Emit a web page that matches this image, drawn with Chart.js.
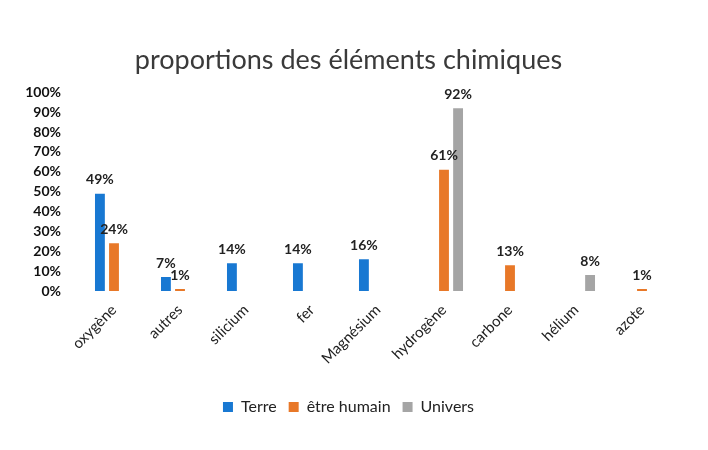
<!DOCTYPE html>
<html>
<head>
<meta charset="utf-8">
<script src="https://cdn.jsdelivr.net/npm/chart.js@4"></script>
<style>
  body { margin: 0; background: #fff; }
  #wrap { width: 708px; height: 450px; }
</style>
</head>
<body>
<div id="wrap"><canvas id="chimie" width="708" height="450"></canvas></div>
<script>
// categories and values
let elements = ["oxygène", "autres", "silicium", "fer", "Magnésium", "hydrogène", "carbone", "hélium", "azote"];
let terre = [49, 7, 14, 14, 16, null, null, null, null];
let humain = [24, 1, null, null, null, 61, 13, null, 1];
let univers = [null, null, null, null, null, 92, null, 8, null];
let yStep = 10;

// draws the % value above each bar
const valueLabels = {
  id: 'valueLabels',
  afterDatasetsDraw(chart) {
    const ctx = chart.ctx;
    ctx.save();
    ctx.font = 'bold 14px Lato';
    ctx.fillStyle = '#222';
    ctx.textAlign = 'center';
    ctx.textBaseline = 'bottom';
    chart.data.datasets.forEach(function(ds, i) {
      const meta = chart.getDatasetMeta(i);
      meta.data.forEach(function(bar, j) {
        if (ds.data[j] == null) return;
        ctx.fillText(ds.data[j] + '%', bar.x, bar.y - 7);
      });
    });
    ctx.restore();
  }
};

var ctx = document.getElementById('chimie').getContext('2d');
var chart = new Chart(ctx, {
  type: 'bar',
  data: {
    labels: elements,
    datasets: [{
      label: 'Terre',
      backgroundColor: 'rgb(24, 120, 210)',
      data: terre
    }, {
      label: 'être humain',
      backgroundColor: 'rgb(232, 120, 40)',
      data: humain
    }, {
      label: 'Univers',
      backgroundColor: 'rgb(165, 165, 165)',
      data: univers
    }]
  },
  options: {
    responsive: false,
    animation: false,
    categoryPercentage: 0.64,
    barPercentage: 0.7,
    layout: { padding: { left: 22, right: 33, top: 10, bottom: 25 } },
    plugins: {
      title: {
        display: true,
        text: 'proportions des éléments chimiques',
        color: '#3a3a3a',
        font: { family: 'Lato', size: 27, weight: 'normal', lineHeight: 1.2 },
        padding: { top: 34, bottom: 16 }
      },
      legend: {
        position: 'bottom',
        labels: {
          color: '#222',
          font: { family: 'Lato', size: 16 },
          boxWidth: 10,
          boxHeight: 10,
          padding: 12
        }
      },
      tooltip: { enabled: false }
    },
    scales: {
      x: {
        grid: { display: false },
        border: { display: false },
        afterFit: function(scale) { scale.height = 96; },
        ticks: {
          color: '#222',
          font: { family: 'Lato', size: 15 },
          maxRotation: 45,
          minRotation: 45,
          autoSkip: false,
          padding: 2
        }
      },
      y: {
        min: 0,
        max: 100,
        grid: { display: false },
        border: { display: false },
        afterFit: function(scale) { scale.width = 59; },
        ticks: {
          stepSize: yStep,
          autoSkip: false,
          color: '#111',
          font: { family: 'Lato', size: 14, weight: 'bold' },
          padding: 12,
          callback: function(v) { return v + '%'; }
        }
      }
    }
  },
  plugins: [valueLabels]
});
</script>
</body>
</html>
